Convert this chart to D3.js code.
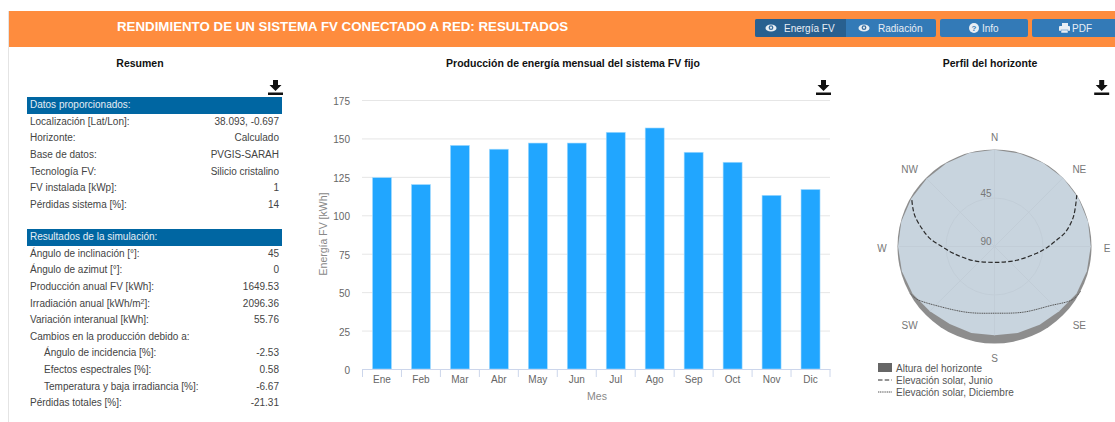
<!DOCTYPE html>
<html>
<head>
<meta charset="utf-8">
<script src="https://cdn.jsdelivr.net/npm/d3@7"></script>
<style>
  html, body { margin: 0; padding: 0; background: #fff; }
  svg { display: block; font-family: "Liberation Sans", Arial, sans-serif; }
</style>
</head>
<body>
<svg id="page" width="1115" height="422"></svg>
<script>
"use strict";

const months = ['Ene', 'Feb', 'Mar', 'Abr', 'May', 'Jun', 'Jul', 'Ago', 'Sep', 'Oct', 'Nov', 'Dic'];
const energy = [124.5, 120, 145.5, 143, 147, 147, 154, 156.8, 141, 134.5, 113, 116.8];
const energyTicks = [0, 25, 50, 75, 100, 125, 150, 175];

const inputLabels = ['Localización [Lat/Lon]:', 'Horizonte:', 'Base de datos:', 'Tecnología FV:', 'FV instalada [kWp]:', 'Pérdidas sistema [%]:'];
const inputValues = ['38.093, -0.697', 'Calculado', 'PVGIS-SARAH', 'Silicio cristalino', '1', '14'];
const resultLabels = ['Ángulo de inclinación [°]:', 'Ángulo de azimut [°]:', 'Producción anual FV [kWh]:', 'Irradiación anual [kWh/m2]:', 'Variación interanual [kWh]:', 'Cambios en la producción debido a:', 'Ángulo de incidencia [%]:', 'Efectos espectrales [%]:', 'Temperatura y baja irradiancia [%]:', 'Pérdidas totales [%]:'];
const resultValues = ['45', '0', '1649.53', '2096.36', '55.76', '', '-2.53', '0.58', '-6.67', '-21.31'];
const indentedResults = [6, 7, 8];

// horizon height [deg], every 15 deg of azimuth from north
const horizonAzimuth = [0, 15, 30, 45, 60, 75, 90, 105, 120, 135, 150, 165, 180, 195, 210, 225, 240, 255, 270, 285, 300, 315, 330, 345];
const horizonHeight = [0.2, 0.7, 0.3, 0, 0.1, 0.2, 0.7, 1.3, 2.2, 5.2, 6.2, 6.8, 7.6, 7, 6.9, 5.2, 2.2, 1, 0.5, 0.5, 0.9, 1, 0.7, 0.2];

const juneAzimuth = [58, 69.4, 78.7, 84, 91.3, 99, 124.4, 180, 236, 260.5, 270, 277, 284, 290.6, 295, 300];
const juneElevation = [0, 11.8, 23, 31.9, 41.4, 50.2, 66.8, 75.3, 66.5, 51.4, 41.1, 29.8, 20.5, 11.4, 6.5, 1.3];
const decemberAzimuth = [117.5, 124, 137, 156.4, 180, 201.8, 222.3, 236, 241];
const decemberElevation = [0, 2.2, 14.8, 23.5, 28.1, 24.1, 14.7, 2.8, 0.3];

const compassLabels = ['N', 'NE', 'E', 'SE', 'S', 'SW', 'W', 'NW'];
const compassAzimuth = [0, 45, 90, 135, 180, 225, 270, 315];
const elevationTicks = [45, 90];
const legendLabels = ['Altura del horizonte', 'Elevación solar, Junio', 'Elevación solar, Diciembre'];

const svg = d3.select('#page');
const rad = (d) => d * Math.PI / 180;

function drawEye(g, x, y) {
  g.append('ellipse').attr('cx', x).attr('cy', y).attr('rx', 5.5).attr('ry', 3.6).attr('fill', '#e8eef4');
  g.append('circle').attr('cx', x).attr('cy', y - 0.3).attr('r', 2.4).attr('fill', '#3a6f9f');
  g.append('circle').attr('cx', x).attr('cy', y - 0.3).attr('r', 1.1).attr('fill', '#e8eef4');
}

function drawDownload(x, y) {
  const g = svg.append('g').attr('transform', `translate(${x},${y})`).attr('fill', '#111');
  g.append('path').attr('d', 'M-2.5,-7 H2.5 V-2 H6 L0,4 L-6,-2 H-2.5 Z');
  g.append('rect').attr('x', -7.5).attr('y', 5.5).attr('width', 15).attr('height', 2.5);
}

function drawHeader() {
  svg.append('rect').attr('x', 8).attr('y', 11).attr('width', 1).attr('height', 411).attr('fill', '#e4e4e4');
  svg.append('rect').attr('x', 9).attr('y', 11).attr('width', 1106).attr('height', 36).attr('fill', '#fe8c3e');
  svg.append('text').attr('x', 117).attr('y', 31).attr('fill', '#fff')
    .attr('font-size', 13.3).attr('font-weight', 'bold')
    .text('RENDIMIENTO DE UN SISTEMA FV CONECTADO A RED: RESULTADOS');

  const g = svg.append('g').attr('font-size', 10).attr('fill', '#e8eef4');
  g.append('rect').attr('x', 755).attr('y', 19).attr('width', 181).attr('height', 18).attr('rx', 2).attr('fill', '#337ab7');
  g.append('path').attr('d', 'M757,19 H846 V37 H757 Q755,37 755,35 V21 Q755,19 757,19 Z').attr('fill', '#286090');
  g.append('rect').attr('x', 940).attr('y', 19).attr('width', 88).attr('height', 18).attr('rx', 2).attr('fill', '#337ab7');
  g.append('rect').attr('x', 1032).attr('y', 19).attr('width', 90).attr('height', 18).attr('rx', 2).attr('fill', '#337ab7');

  drawEye(g, 771, 28);
  g.append('text').attr('x', 784).attr('y', 31.5).text('Energía FV');
  drawEye(g, 864, 28);
  g.append('text').attr('x', 878).attr('y', 31.5).text('Radiación');

  g.append('circle').attr('cx', 974).attr('cy', 28).attr('r', 5).attr('fill', '#e8eef4');
  g.append('text').attr('x', 974).attr('y', 31).attr('text-anchor', 'middle')
    .attr('font-size', 8).attr('font-weight', 'bold').attr('fill', '#337ab7').text('?');
  g.append('text').attr('x', 982).attr('y', 31.5).text('Info');

  g.append('rect').attr('x', 1062).attr('y', 23).attr('width', 6).attr('height', 3);
  g.append('rect').attr('x', 1059).attr('y', 26).attr('width', 11).attr('height', 5).attr('rx', 1);
  g.append('rect').attr('x', 1061).attr('y', 30).attr('width', 7).attr('height', 3).attr('stroke', '#337ab7').attr('stroke-width', 0.5);
  g.append('text').attr('x', 1072).attr('y', 31.5).text('PDF');
}

function drawTitles() {
  const titles = [[140, 'Resumen'], [573, 'Producción de energía mensual del sistema FV fijo'], [990, 'Perfil del horizonte']];
  svg.append('g').selectAll('text').data(titles).join('text')
    .attr('x', (d) => d[0]).attr('y', 67).attr('text-anchor', 'middle')
    .attr('font-size', 10.5).attr('font-weight', 'bold').attr('fill', '#111')
    .text((d) => d[1]);
  [275.5, 823.5, 1101.7].forEach((x) => drawDownload(x, 87));
}

function drawTable(title, top, labels, values, indented) {
  const g = svg.append('g').attr('font-size', 10).attr('fill', '#444');
  const rowY = d3.scaleLinear().domain([0, 1]).range([top + 27.8, top + 44.4]);

  g.append('rect').attr('x', 27).attr('y', top).attr('width', 255).attr('height', 17).attr('fill', '#0066a2');
  g.append('text').attr('x', 30).attr('y', top + 11.3).attr('fill', '#e6eef5').text(title);

  labels.forEach((label, i) => {
    const text = g.append('text').attr('x', indented.includes(i) ? 44 : 30).attr('y', rowY(i));
    if (label.includes('m2')) {
      text.append('tspan').text(label.split('m2')[0] + 'm');
      text.append('tspan').attr('font-size', 7).attr('dy', -3).text('2');
      text.append('tspan').attr('dy', 3).text(label.split('m2')[1]);
    } else {
      text.text(label);
    }
    g.append('text').attr('x', 279).attr('y', rowY(i)).attr('text-anchor', 'end').text(values[i]);
  });
}

function drawBars() {
  const x = d3.scaleBand().domain(months).range([362.5, 830]);
  const y = d3.scaleLinear().domain([0, 175]).range([369, 100]);
  const g = svg.append('g');

  g.append('g').selectAll('line').data(energyTicks.slice(1)).join('line')
    .attr('x1', 362).attr('x2', 830)
    .attr('y1', (d) => y(d) + 0.5).attr('y2', (d) => y(d) + 0.5)
    .attr('stroke', '#e6e6e6');

  g.append('g').selectAll('rect').data(months).join('rect')
    .attr('x', (d) => x(d) + x.bandwidth() / 2 - 9.5)
    .attr('y', (d, i) => y(energy[i]))
    .attr('width', 19)
    .attr('height', (d, i) => y(0) - y(energy[i]))
    .attr('fill', '#21a6ff')
    .attr('stroke', '#a6dcff').attr('stroke-width', 0.6);

  const xAxis = g.append('g').attr('transform', 'translate(0,369)')
    .call(d3.axisBottom(x).tickSize(0).tickPadding(7));
  xAxis.select('.domain').attr('stroke', '#ccd6eb');
  xAxis.selectAll('text').attr('font-size', 10).attr('font-family', null).attr('fill', '#666');
  xAxis.selectAll('.boundary').data(d3.range(13)).join('line').attr('class', 'boundary')
    .attr('x1', (d) => 362.5 + d * x.bandwidth()).attr('x2', (d) => 362.5 + d * x.bandwidth())
    .attr('y1', 0).attr('y2', 8).attr('stroke', '#ccd6eb');

  const yAxis = g.append('g').attr('transform', 'translate(362,0)')
    .call(d3.axisLeft(y).tickValues(energyTicks).tickSize(0).tickPadding(12));
  yAxis.select('.domain').remove();
  yAxis.selectAll('text').attr('font-size', 10).attr('font-family', null).attr('fill', '#666').attr('dy', '0.45em');

  g.append('text').attr('x', 597).attr('y', 400).attr('text-anchor', 'middle')
    .attr('font-size', 10.5).attr('fill', '#888').text('Mes');
  g.append('text').attr('transform', 'translate(327,234) rotate(-90)').attr('text-anchor', 'middle')
    .attr('font-size', 10.5).attr('fill', '#888').text('Energía FV [kWh]');
}

function drawHorizon() {
  const cx = 994.5, cy = 246.5, outer = 97;
  const r = d3.scaleLinear().domain([0, 90]).range([outer, 0]);
  const g = svg.append('g').attr('transform', `translate(${cx},${cy})`);

  g.append('circle').attr('r', outer).attr('fill', '#8d8d8d');

  const sky = d3.lineRadial().angle((d) => rad(d)).radius((d, i) => r(horizonHeight[i])).curve(d3.curveLinearClosed);
  g.append('path').attr('d', sky(horizonAzimuth)).attr('fill', '#c8d4de');

  g.append('g').selectAll('line').data(compassAzimuth).join('line')
    .attr('x1', 0).attr('y1', 0)
    .attr('x2', (d) => d3.pointRadial(rad(d), r(horizonHeight[horizonAzimuth.indexOf(d)]))[0])
    .attr('y2', (d) => d3.pointRadial(rad(d), r(horizonHeight[horizonAzimuth.indexOf(d)]))[1])
    .attr('stroke', '#c0ccd6').attr('stroke-width', 0.8);
  g.append('circle').attr('r', r(45)).attr('fill', 'none').attr('stroke', '#c0ccd6').attr('stroke-width', 0.8);

  const june = d3.lineRadial().angle((d) => rad(d)).radius((d, i) => r(juneElevation[i])).curve(d3.curveCatmullRom);
  g.append('path').attr('d', june(juneAzimuth)).attr('fill', 'none')
    .attr('stroke', '#2b2b2b').attr('stroke-width', 1.2).attr('stroke-dasharray', '4.5,2.2');

  const december = d3.lineRadial().angle((d) => rad(d)).radius((d, i) => r(decemberElevation[i])).curve(d3.curveCatmullRom);
  g.append('path').attr('d', december(decemberAzimuth)).attr('fill', 'none')
    .attr('stroke', '#555').attr('stroke-width', 1).attr('stroke-dasharray', '1.2,0.6');

  g.append('g').selectAll('text').data(elevationTicks).join('text')
    .attr('x', -3).attr('y', (d) => -r(d) - 1.5)
    .attr('text-anchor', 'end').attr('font-size', 10).attr('fill', '#777').text((d) => d);

  // north labels sit a bit lower than south ones
  const labelOffset = (d) => (d < 90 || d > 270 ? 5.5 : d === 90 || d === 270 ? 5.5 : d === 180 ? 4 : 3);
  g.append('g').selectAll('text').data(compassLabels).join('text')
    .attr('x', (d, i) => d3.pointRadial(rad(compassAzimuth[i]), i % 2 ? 120 : 112.5)[0])
    .attr('y', (d, i) => d3.pointRadial(rad(compassAzimuth[i]), i % 2 ? 112 : 111)[1] + labelOffset(compassAzimuth[i]))
    .attr('text-anchor', 'middle').attr('font-size', 10).attr('fill', '#777').text((d) => d);

  const legend = svg.append('g').attr('font-size', 10).attr('fill', '#555');
  legend.append('rect').attr('x', 878).attr('y', 363).attr('width', 14).attr('height', 9).attr('fill', '#666');
  legend.append('line').attr('x1', 878).attr('x2', 892).attr('y1', 380).attr('y2', 380)
    .attr('stroke', '#2b2b2b').attr('stroke-width', 1.2).attr('stroke-dasharray', '4.5,2.2');
  legend.append('line').attr('x1', 878).attr('x2', 892).attr('y1', 392).attr('y2', 392)
    .attr('stroke', '#555').attr('stroke-width', 1).attr('stroke-dasharray', '1.2,0.6');
  legend.selectAll('text').data(legendLabels).join('text')
    .attr('x', 896).attr('y', (d, i) => 372 + i * 12).text((d) => d);
}

drawHeader();
drawTitles();
drawTable('Datos proporcionados:', 97, inputLabels, inputValues, []);
drawTable('Resultados de la simulación:', 229, resultLabels, resultValues, indentedResults);
drawBars();
drawHorizon();
</script>
</body>
</html>
